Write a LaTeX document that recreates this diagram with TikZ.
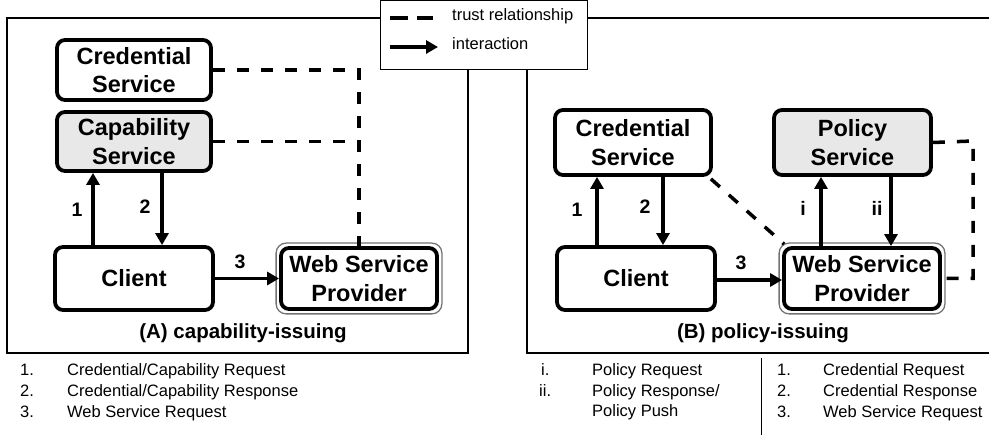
\documentclass[tikz,border=0pt]{standalone}
\usepackage{fontspec}
\setmainfont{Liberation Sans}
\usetikzlibrary{arrows.meta,calc}
\begin{document}
\begin{tikzpicture}[x=1pt,y=-1pt,
 box/.style={draw=black, line width=3.8pt, rounded corners=8pt, align=center, font=\fontsize{23.5}{28.5}\selectfont\bfseries, inner sep=0pt},
 graybox/.style={box, fill=black!9},
 wspouter/.style={draw=black!55, line width=1.3pt, rounded corners=10pt},
 arr/.style={line width=3.8pt, -{Triangle[length=12pt,width=13pt]}},
 trust/.style={line width=3.5pt, dash pattern=on 12pt off 12pt},
 num/.style={font=\fontsize{19.5}{19.5}\selectfont\bfseries},
 captxt/.style={font=\fontsize{20.5}{20.5}\selectfont\bfseries},
 legtxt/.style={font=\fontsize{16.5}{20}\selectfont, anchor=mid west, inner sep=0pt},
 framebox/.style={draw=black, line width=1.2pt}]
\clip (0,0) rectangle (989,435);
% panel frames
\draw[framebox] (7,18) rectangle (468,353);
\draw[framebox] (527,18) rectangle (1000,353);
% legend box
\node[draw=black, line width=1pt, fill=white, minimum width=207pt, minimum height=69pt, anchor=north west, inner sep=0pt] (legend) at (380,0.5) {};
\coordinate (ld1) at (390,18);
\coordinate (ld2) at (433,18);
\coordinate (la1) at (390,47);
\coordinate (la2) at (438,47);
\draw[line width=3.4pt, dash pattern=on 18pt off 9pt] (ld1) -- (ld2);
\draw[arr] (la1) -- (la2);
\node[legtxt] (lt1) at (452,18) {trust relationship};
\node[legtxt] (lt2) at (452,47) {interaction};

% ---------- panel A ----------
\node[box, minimum width=154pt, minimum height=60pt] (credA) at (134,70) {Credential\\Service};
\node[graybox, minimum width=154pt, minimum height=59pt] (capA) at (134,141.5) {Capability\\Service};
\node[box, minimum width=158pt, minimum height=63pt] (clientA) at (134,278.5) {Client};
\node[box, minimum width=156pt, minimum height=61pt] (wspA) at (359,278.5) {Web Service\\Provider};
\draw[wspouter] ($(wspA.south west)+(-3,3)$) rectangle ($(wspA.north east)+(3,-3)$);

\draw[arr] ([xshift=-41pt]clientA.north) -- ([xshift=-41pt]capA.south);
\draw[arr] ([xshift=28pt]capA.south) -- ([xshift=28pt]clientA.north);
\draw[arr] (clientA.east) -- (wspA.west);
\node[num] (n1A) at (77,210) {1};
\node[num] (n2A) at (145,207) {2};
\node[num] (n3A) at (240,262) {3};

\draw[trust] (credA.east) -| (wspA.north);
\draw[trust] (capA.east) -- (capA.east -| wspA.north);

\node[captxt] (capta) at (243,333) {(A) capability-issuing};

% ---------- panel B ----------
\node[box, minimum width=156pt, minimum height=65pt] (credB) at (633,142.5) {Credential\\Service};
\node[graybox, minimum width=157pt, minimum height=65pt] (polB) at (852.5,142.5) {Policy\\Service};
\node[box, minimum width=158pt, minimum height=63pt] (clientB) at (636,278.5) {Client};
\node[box, minimum width=156pt, minimum height=61pt] (wspB) at (862,278.5) {Web Service\\Provider};
\draw[wspouter] ($(wspB.south west)+(-3,3)$) rectangle ($(wspB.north east)+(3,-3)$);

\draw[arr] ([xshift=-39pt]clientB.north) -- ([xshift=-39pt]clientB.north |- credB.south);
\draw[arr] ([xshift=27pt]clientB.north |- credB.south) -- ([xshift=27pt]clientB.north);
\draw[arr] ([xshift=-41pt]wspB.north) -- ([xshift=-41pt]wspB.north |- polB.south);
\draw[arr] ([xshift=29pt]wspB.north |- polB.south) -- ([xshift=29pt]wspB.north);
\draw[arr] ([yshift=-1.5pt]clientB.east) -- ([yshift=-1.5pt]clientB.east -| wspB.west);
\node[num] (n1B) at (577,210) {1};
\node[num] (n2B) at (645,207) {2};
\node[num] (niB) at (803,208) {i};
\node[num] (niiB) at (877,208) {ii};
\node[num] (n3B) at (741,263) {3};

\draw[trust] ([xshift=-2pt,yshift=-2pt]credB.south east) -- ([xshift=2pt,yshift=2pt]wspB.north west);
\coordinate (pcorner) at (973,141);
\draw[trust] (polB.east) -- (pcorner) |- (wspB.east);

\node[captxt] (captb) at (763,333) {(B) policy-issuing};

% ---------- bottom legends ----------
\node[legtxt] (a1n) at (20,373) {1.};
\node[legtxt] (a2n) at (20,394) {2.};
\node[legtxt] (a3n) at (20,415) {3.};
\node[legtxt] (a1t) at (67,373) {Credential/Capability Request};
\node[legtxt] (a2t) at (67,394) {Credential/Capability Response};
\node[legtxt] (a3t) at (67,415) {Web Service Request};

\node[legtxt] (b1n) at (541,373) {i.};
\node[legtxt] (b2n) at (539,394) {ii.};
\node[legtxt] (b1t) at (592,373) {Policy Request};
\node[legtxt] (b2t) at (592,394) {Policy Response/};
\node[legtxt] (b3t) at (592,414) {Policy Push};

\coordinate (sep1) at (761,358);
\coordinate (sep2) at (761,436);
\draw[line width=1pt] (sep1) -- (sep2);

\node[legtxt] (c1n) at (777,373) {1.};
\node[legtxt] (c2n) at (777,394) {2.};
\node[legtxt] (c3n) at (777,415) {3.};
\node[legtxt] (c1t) at (823,373) {Credential Request};
\node[legtxt] (c2t) at (823,394) {Credential Response};
\node[legtxt] (c3t) at (823,415) {Web Service Request};
\end{tikzpicture}
\end{document}
